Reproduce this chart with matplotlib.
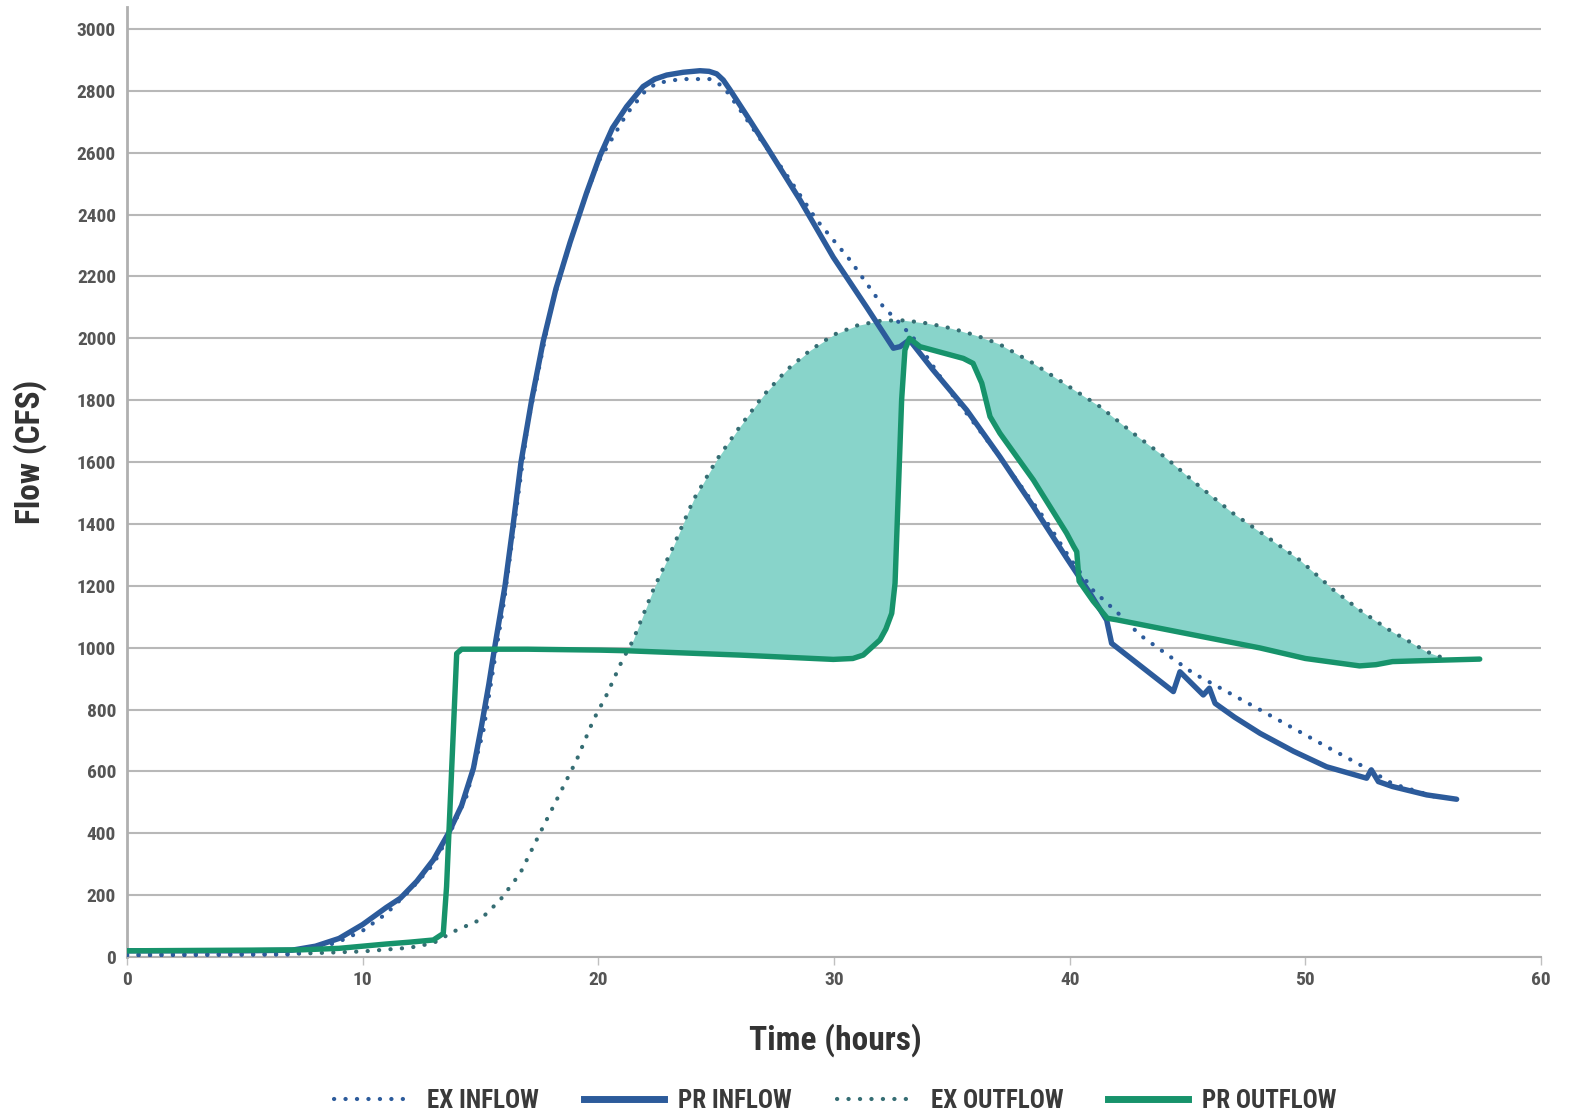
import numpy as np
import matplotlib
matplotlib.use("Agg")
import matplotlib.pyplot as plt
from matplotlib.lines import Line2D
from matplotlib import font_manager as fm

# ---------------- data ----------------
pr_in_t = [0, 5, 7, 8, 9, 10, 11, 11.6, 12.3, 13.0, 13.64, 14.2, 14.7, 15.05, 15.35,
           15.6, 16.04, 16.39, 16.72, 17.17, 17.66, 18.2, 18.8, 19.5, 20.07, 20.6,
           21.2, 21.9, 22.4, 22.9, 23.6, 24.31, 24.7, 25.02, 25.3, 25.59, 26.3,
           27.14, 28.56, 29.97, 31.39, 32.52, 32.8, 33.2, 34.2, 35.63, 37.04, 38.46,
           39.87, 40.86, 41.57, 41.78, 44.40, 44.68, 45.67, 45.93, 46.17, 47.0,
           48.08, 49.5, 50.9, 52.6, 52.8, 53.1, 53.7, 55.15, 56.42]
pr_in_q = [20, 20, 22, 35, 60, 105, 160, 190, 245, 314, 400, 490, 610, 750, 880,
           1000, 1200, 1400, 1600, 1800, 1990, 2160, 2310, 2470, 2590, 2680,
           2749, 2814, 2838, 2851, 2860, 2865, 2863, 2855, 2835, 2803, 2720,
           2620, 2447, 2262, 2100, 1968, 1973, 1995, 1898, 1768, 1617, 1456,
           1290, 1176, 1089, 1014, 858, 922, 847, 869, 820, 775,
           723, 665, 615, 578, 605, 567, 551, 524, 510]

ex_in_t = [0, 7, 8, 9, 10, 11, 12, 13, 13.64, 14.41, 15.12, 16, 17, 18, 19, 20, 21.2,
           22, 22.48, 23.5, 24.74, 25.3, 26, 27, 27.85, 29.26, 30.68, 32.09, 32.8,
           33.5, 35, 37, 39, 40, 41, 42.13, 42.98, 45.25, 48.08, 50.9, 52.6, 53.7, 55.5]
ex_in_q = [5, 8, 25, 50, 85, 140, 215, 300, 390, 520, 730, 1150, 1720, 2100, 2360, 2570, 2725,
           2800, 2825, 2838, 2838, 2814, 2740, 2630, 2544, 2383, 2253, 2102, 2048,
           1990, 1820, 1620, 1410, 1290, 1185, 1106, 1041, 917, 799, 680, 610, 560, 518]

ex_out_t = [0, 7, 10, 12, 13, 13.85, 14.98, 15.83, 16.68, 17.52, 18.37, 19.08, 19.79,
            20.35, 20.99, 21.48, 22.33, 23.18, 24.03, 25.02, 26.0, 27.0, 28.0, 29.0,
            30.0, 31.0, 32.0, 33.0, 34.0, 35.0, 36.0, 37.0, 38.46, 39.87, 41.29, 42.7,
            44.11, 45.53, 46.94, 48.36, 49.77, 51.19, 52.3, 53.5, 55.15, 55.7, 56.0]
ex_out_q = [8, 10, 18, 30, 45, 82, 120, 184, 270, 400, 529, 637, 766,
            847, 955, 1025, 1187, 1327, 1477, 1607, 1714, 1815, 1898, 1962,
            2012, 2042, 2057, 2058, 2048, 2032, 2010, 1982, 1919, 1849, 1779, 1693,
            1612, 1520, 1434, 1359, 1283, 1187, 1122, 1060, 987, 971, 965]

pr_out_t = [0, 7.34, 9, 10, 11, 12, 13.0, 13.42, 13.56, 13.99, 14.2, 17, 20.07, 21.2,
            26.0, 29.97, 30.8, 31.24, 31.95, 32.2, 32.45, 32.59, 32.87, 33.01, 33.2,
            33.65, 35.49, 35.9, 36.27, 36.62, 37.04, 38.46, 39.87, 40.17, 40.3, 40.4,
            41.0, 41.6, 42.0, 45, 48.08, 50, 52.3, 53.0, 53.7, 55, 57.4]
pr_out_q = [20, 23, 28, 35, 42, 48, 55, 76, 227, 981, 995, 995, 992, 990,
            976, 962, 965, 976, 1025, 1060, 1111, 1208, 1801, 1962, 2000,
            1973, 1935, 1919, 1855, 1747, 1693, 1542, 1370, 1327, 1310, 1215,
            1150, 1095, 1090, 1045, 999, 965, 941, 945, 955, 958, 963]

y_ticks = list(range(0, 3001, 200))
x_ticks = [0, 10, 20, 30, 40, 50, 60]
labels = ["EX INFLOW", "PR INFLOW", "EX OUTFLOW", "PR OUTFLOW"]

# ---------------- style ----------------
BLUE = "#2c5b9b"
GREEN = "#17936b"
FILL = "#88d4ca"
EXOUT = "#356d73"
GRID = "#b8b8b8"


def has_font(name):
    try:
        fm.findfont(fm.FontProperties(family=name), fallback_to_default=False)
        return True
    except Exception:
        return False


condensed = None
for cand in ["Roboto Condensed", "Open Sans Condensed", "Liberation Sans Narrow",
             "Arial Narrow", "DejaVu Sans Condensed"]:
    if has_font(cand):
        condensed = cand
        break

if condensed:
    FONT = [condensed, "DejaVu Sans"]
    S_TICK, S_LABEL, S_LEG = 14, 24, 18
else:
    FONT = ["DejaVu Sans"]
    S_TICK, S_LABEL, S_LEG = 12, 19, 14.5
plt.rcParams["font.family"] = FONT

W, H = 1569, 1117
fig = plt.figure(figsize=(W / 100, H / 100), dpi=100)
ax = fig.add_axes([127 / W, 1 - 957 / H, (1541 - 127) / W, (957 - 7) / H])
ax.set_xlim(0, 60)
ax.set_ylim(0, 3071)

# fill between existing outflow and proposed outflow
t = np.linspace(0, ex_out_t[-1], 4000)
exo = np.interp(t, ex_out_t, ex_out_q)
pro = np.interp(t, pr_out_t, pr_out_q)
ax.fill_between(t, pro, exo, where=exo > pro, interpolate=True,
                color=FILL, linewidth=0, zorder=1)

dot = (0, (0.05, 2.7))
ax.plot(ex_out_t, ex_out_q, color=EXOUT, lw=3.0, linestyle=dot,
        dash_capstyle="round", zorder=3)
ax.plot(ex_in_t, ex_in_q, color=BLUE, lw=3.0, linestyle=dot,
        dash_capstyle="round", zorder=3)
ax.plot(pr_in_t, pr_in_q, color=BLUE, lw=3.9, solid_joinstyle="round",
        solid_capstyle="round", zorder=4)
ax.plot(pr_out_t, pr_out_q, color=GREEN, lw=3.9, solid_joinstyle="round",
        solid_capstyle="round", zorder=5)

ax.set_yticks(y_ticks)
ax.set_xticks(x_ticks)
ax.yaxis.grid(True, color=GRID, lw=1.5, zorder=0)
ax.set_axisbelow(True)
for s in ("top", "right"):
    ax.spines[s].set_visible(False)
ax.spines["left"].set_color("#b0b0b0")
ax.spines["left"].set_linewidth(2)
ax.spines["bottom"].set_color("#b0b0b0")
ax.spines["bottom"].set_linewidth(1.5)
ax.tick_params(axis="y", length=0, pad=8, labelsize=S_TICK, labelcolor="#555555")
ax.tick_params(axis="x", length=6, width=1, color="#c0c0c0", pad=4,
               labelsize=S_TICK, labelcolor="#555555")
for lab in ax.get_xticklabels() + ax.get_yticklabels():
    lab.set_fontweight("bold")

fig.text(835 / W, 1 - 1040 / H, "Time (hours)", ha="center", va="center",
         fontsize=S_LABEL, fontweight="bold", color="#333333")
fig.text(30 / W, 1 - 452 / H, "Flow (CFS)", ha="center", va="center",
         rotation=90, fontsize=S_LABEL, fontweight="bold", color="#333333")

handles = [
    Line2D([], [], color=BLUE, lw=3.0, linestyle=dot, dash_capstyle="round"),
    Line2D([], [], color=BLUE, lw=5),
    Line2D([], [], color=EXOUT, lw=3.0, linestyle=dot, dash_capstyle="round"),
    Line2D([], [], color=GREEN, lw=5),
]
leg = fig.legend(handles, labels, loc="center", bbox_to_anchor=(835 / W, 1 - 1101 / H),
                 ncol=4, frameon=False, handlelength=3.2, handletextpad=0.55,
                 columnspacing=1.8, prop={"size": S_LEG, "weight": "bold"})
for txt in leg.get_texts():
    txt.set_color("#3a3a3a")

fig.savefig("out.png", dpi=100)
